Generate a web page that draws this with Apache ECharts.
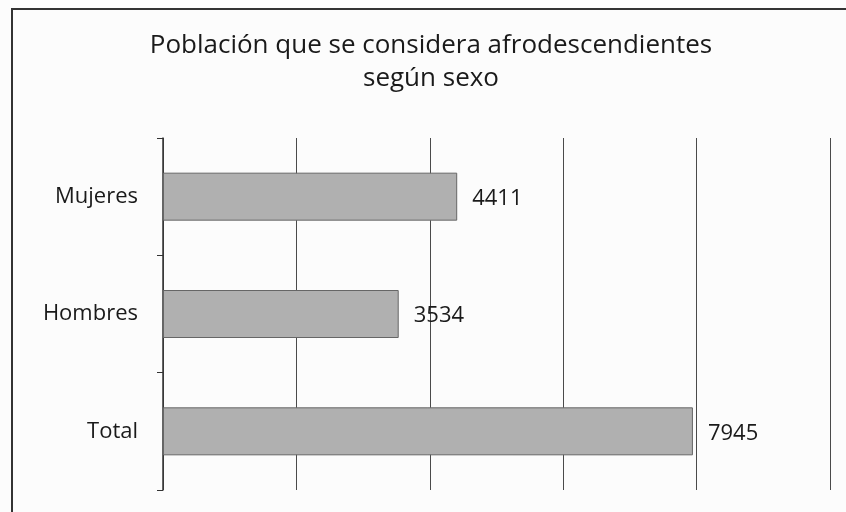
<!DOCTYPE html>
<html>
<head>
<meta charset="utf-8">
<script src="https://cdn.jsdelivr.net/npm/echarts@6/dist/echarts.min.js"></script>
<style>
  html, body { margin: 0; padding: 0; background: #fcfcfc; }
  #chart { width: 846px; height: 512px; }
</style>
</head>
<body>
<div id="chart"></div>
<script>
// Population identifying as Afro-descendant, by sex
const categories = ['Mujeres', 'Hombres', 'Total'];
const values = [4411, 3534, 7945];
const titleText = 'Población que se considera afrodescendientes\nsegún sexo';

const FONT = '"Open Sans", Lato, sans-serif';

const chart = echarts.init(document.getElementById('chart'), null, { renderer: 'canvas' });
chart.setOption({
  backgroundColor: '#fcfcfc',
  animation: false,
  title: {
    text: titleText,
    left: 426,
    textAlign: 'center',
    top: 24,
    textStyle: {
      fontFamily: FONT,
      fontSize: 26,
      fontWeight: 'normal',
      color: '#1a1a1a',
      lineHeight: 33
    }
  },
  graphic: [{
    type: 'rect',
    shape: { x: 12, y: 9, width: 860, height: 540 },
    style: { fill: 'none', stroke: '#333', lineWidth: 2 },
    silent: true
  }],
  grid: { left: 163, right: 16, top: 138, bottom: 22 },
  xAxis: {
    type: 'value',
    min: 0,
    max: 10000,
    interval: 2000,
    axisLabel: { show: false },
    axisLine: { show: false },
    axisTick: { show: false },
    splitLine: { show: true, lineStyle: { color: '#4a4a4a', width: 1 } }
  },
  yAxis: {
    type: 'category',
    data: categories,
    inverse: true,
    axisLine: { show: true, lineStyle: { color: '#333', width: 1.5 } },
    axisTick: { show: true, length: 6, lineStyle: { color: '#333' } },
    axisLabel: {
      margin: 25,
      fontFamily: FONT,
      fontSize: 22,
      color: '#1a1a1a'
    }
  },
  series: [{
    type: 'bar',
    data: values,
    barWidth: 48,
    itemStyle: { color: '#b0b0b0', borderColor: '#666', borderWidth: 1 },
    label: {
      show: true,
      position: 'right',
      distance: 15,
      offset: [0, 2],
      fontFamily: FONT,
      fontSize: 22,
      color: '#1a1a1a'
    }
  }]
});
</script>
</body>
</html>
